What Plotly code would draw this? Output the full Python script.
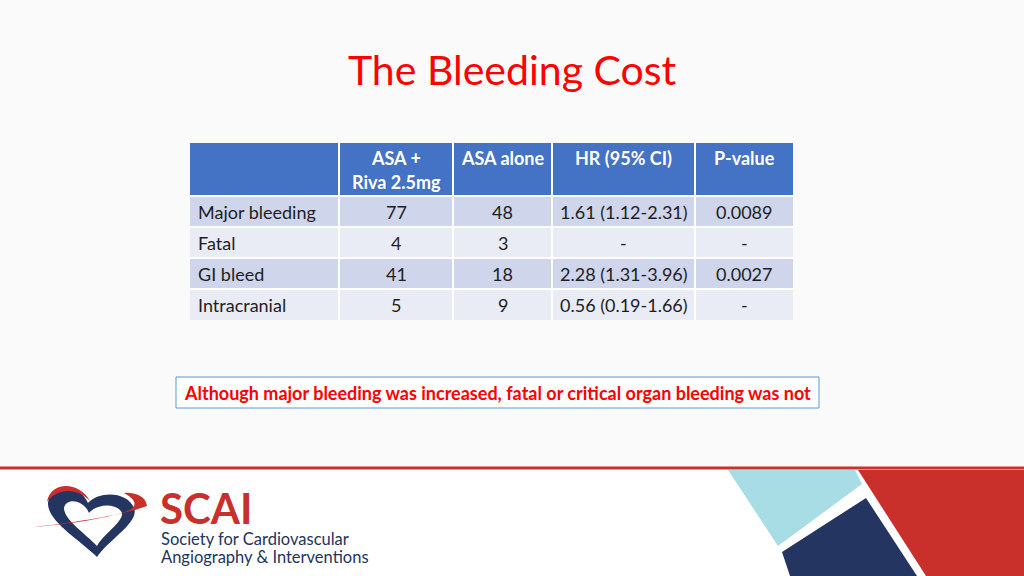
import plotly.graph_objects as go

# ---- data ----
title_text = "The Bleeding Cost"
header_labels = ["", "ASA +<br>Riva 2.5mg", "ASA alone", "HR (95% CI)", "P-value"]
outcomes = ["Major bleeding", "Fatal", "GI bleed", "Intracranial"]
asa_riva = ["77", "4", "41", "5"]
asa_alone = ["48", "3", "18", "9"]
hr_ci = ["1.61 (1.12-2.31)", "-", "2.28 (1.31-3.96)", "0.56 (0.19-1.66)"]
p_values = ["0.0089", "-", "0.0027", "-"]
callout_text = "Although major bleeding was increased, fatal or critical organ bleeding was not"

# ---- layout / style ----
W, H = 1024, 576
FONT = "Lato"
HEADER_BLUE = "#4472C4"
ROW_DARK = "#CFD5EA"
ROW_LIGHT = "#E9EBF5"
RED = "#C9302C"
NAVY = "#233560"

col_edges = [190, 339, 453, 552, 695, 793]
table_top = 143
header_h = 53
row_h = 31
header_line_gap = 24
cell_text_pad = 6

columns = [outcomes, asa_riva, asa_alone, hr_ci, p_values]

fig = go.Figure()
# invisible trace so the cartesian axes (pixel units) exist
fig.add_trace(go.Scatter(x=[0, W], y=[0, H], mode="markers", marker=dict(opacity=0),
                         hoverinfo="skip", showlegend=False))

shapes = []
annotations = []

# background upper area
shapes.append(dict(type="rect", x0=0, x1=W, y0=0, y1=467, fillcolor="#FAFAFA",
                   line=dict(width=0), layer="below"))

# ---- table ----
n_rows = len(outcomes)
row_tops = [table_top + header_h + i * row_h for i in range(n_rows)]
table_bottom = table_top + header_h + n_rows * row_h

# header cells
for c in range(len(header_labels)):
    x0, x1 = col_edges[c], col_edges[c + 1]
    shapes.append(dict(type="rect", x0=x0, x1=x1, y0=table_top, y1=table_top + header_h,
                       fillcolor=HEADER_BLUE, line=dict(width=0), layer="below"))
    for k, line_txt in enumerate(header_labels[c].split("<br>")):
        if not line_txt:
            continue
        annotations.append(dict(x=(x0 + x1) / 2, y=table_top + 15 + k * header_line_gap,
                                text=f"<b>{line_txt}</b>", showarrow=False,
                                xanchor="center", yanchor="middle",
                                font=dict(family=FONT, size=18, color="white")))

# body cells
for r in range(n_rows):
    fill = ROW_DARK if r % 2 == 0 else ROW_LIGHT
    y0 = row_tops[r]
    for c, col in enumerate(columns):
        x0, x1 = col_edges[c], col_edges[c + 1]
        shapes.append(dict(type="rect", x0=x0, x1=x1, y0=y0, y1=y0 + row_h,
                           fillcolor=fill, line=dict(width=0), layer="below"))
        if c == 0:
            ax, anchor = x0 + cell_text_pad, "left"
        else:
            ax, anchor = (x0 + x1) / 2, "center"
        annotations.append(dict(x=ax, y=y0 + row_h / 2, text=col[r], showarrow=False,
                                xanchor=anchor, yanchor="middle",
                                font=dict(family=FONT, size=18, color="#1E1E1E")))

# white grid lines between cells
for xe in col_edges[1:-1]:
    shapes.append(dict(type="line", x0=xe, x1=xe, y0=table_top, y1=table_bottom,
                       line=dict(color="white", width=2), layer="below"))
for ye in [table_top + header_h] + row_tops[1:]:
    shapes.append(dict(type="line", x0=col_edges[0], x1=col_edges[-1], y0=ye, y1=ye,
                       line=dict(color="white", width=2), layer="below"))

# callout box
shapes.append(dict(type="rect", x0=176, x1=819, y0=377, y1=408, fillcolor="white",
                   line=dict(color="#5B9BD5", width=1), layer="below"))
# red separator line
shapes.append(dict(type="line", x0=0, x1=W, y0=468, y1=468, line=dict(color=RED, width=3)))
# decorative polygons bottom-right
shapes.append(dict(type="path", path="M 728,470 L 855,470 L 862,484 L 778,546 Z",
                   fillcolor="#A8DDE5", line=dict(width=0)))
shapes.append(dict(type="path", path="M 782,552 L 866,498 L 917,576 L 790,576 Z",
                   fillcolor=NAVY, line=dict(width=0)))
shapes.append(dict(type="path", path="M 858,470 L 1024,470 L 1024,576 L 926,576 Z",
                   fillcolor=RED, line=dict(width=0)))
# logo heart (navy with white interior)
shapes.append(dict(type="path",
                   path="M 88,503 C 80,484 50,481 48,503 C 47,521 80,540 97,557 "
                        "C 108,540 140,522 134,508 C 128,492 100,490 88,503 Z",
                   fillcolor=NAVY, line=dict(width=0)))
shapes.append(dict(type="path",
                   path="M 89,513 C 84,500 66,497 64,508 C 64,520 86,534 97,546 "
                        "C 103,535 124,521 122,513 C 118,503 97,503 89,513 Z",
                   fillcolor="white", line=dict(width=0)))
# red swooshes
shapes.append(dict(type="path",
                   path="M 33,527 C 70,523 120,516 147,506 C 146,497 136,492 124,493 "
                        "C 135,499 138,505 130,510 C 110,518 70,524 33,527 Z",
                   fillcolor=RED, line=dict(width=0)))
shapes.append(dict(type="path",
                   path="M 47,502 C 50,482 78,480 90,501 C 78,488 58,487 47,502 Z",
                   fillcolor=RED, line=dict(width=0)))

annotations += [
    dict(x=512, y=69, text=title_text, showarrow=False, xanchor="center", yanchor="middle",
         font=dict(family=FONT, size=41, color="#FF0000")),
    dict(x=497, y=393, text=f"<b>{callout_text}</b>", showarrow=False, xanchor="center",
         yanchor="middle", font=dict(family=FONT, size=18, color="#FF0000")),
    dict(x=158, y=508, text="<b>SCAI</b>", showarrow=False, xanchor="left", yanchor="middle",
         font=dict(family=FONT, size=42, color=RED)),
    dict(x=159, y=539, text="Society for Cardiovascular", showarrow=False, xanchor="left",
         yanchor="middle", font=dict(family=FONT, size=16.5, color=NAVY)),
    dict(x=159, y=557, text="Angiography &amp; Interventions", showarrow=False, xanchor="left",
         yanchor="middle", font=dict(family=FONT, size=16.5, color=NAVY)),
]

fig.update_layout(
    width=W, height=H,
    margin=dict(l=0, r=0, t=0, b=0),
    paper_bgcolor="white", plot_bgcolor="rgba(0,0,0,0)",
    xaxis=dict(range=[0, W], visible=False, fixedrange=True),
    yaxis=dict(range=[H, 0], visible=False, fixedrange=True),
    shapes=shapes, annotations=annotations, showlegend=False,
)

fig.write_html("out.html", config={"displayModeBar": False},
               post_script="document.body.style.margin='0';document.body.style.overflow='hidden';")
